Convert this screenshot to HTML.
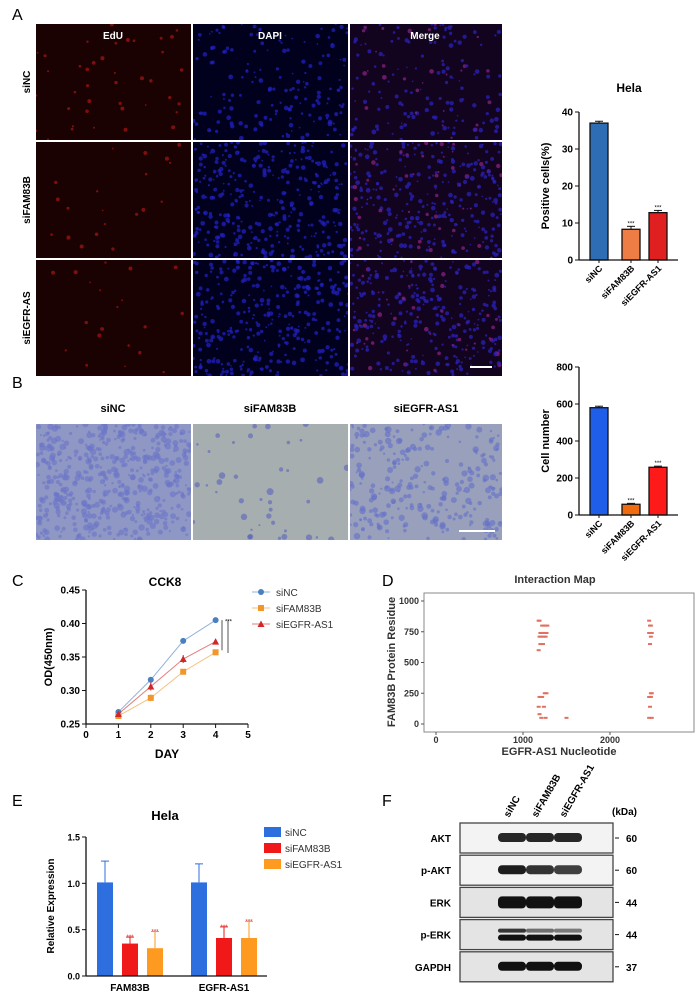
<!DOCTYPE html>
<html><head><meta charset="utf-8"><style>
body{margin:0;background:#fff;}
svg{display:block;font-family:"Liberation Sans",Arial,sans-serif;}
text{font-family:"Liberation Sans",Arial,sans-serif;}
</style></head><body>
<svg id="fig" width="700" height="999" viewBox="0 0 700 999">
<defs id="defs"></defs>
<g id="micro"></g>
<g id="trans"></g>
<text x="12" y="20" font-size="16">A</text>
<text x="12" y="388" font-size="16">B</text>
<text x="12" y="586" font-size="16">C</text>
<text x="382" y="586" font-size="16">D</text>
<text x="12" y="806" font-size="16">E</text>
<text x="382" y="806" font-size="16">F</text>
<g font-weight="bold" font-size="10" fill="#fff" text-anchor="middle">
<text x="113" y="39">EdU</text>
<text x="270" y="39">DAPI</text>
<text x="425" y="39">Merge</text>
</g>
<g font-weight="bold" font-size="10" text-anchor="middle">
<text transform="translate(30,82) rotate(-90)">siNC</text>
<text transform="translate(30,200) rotate(-90)">siFAM83B</text>
<text transform="translate(30,318) rotate(-90)">siEGFR-AS</text>
<text x="113" y="412" font-size="11">siNC</text>
<text x="270" y="412" font-size="11">siFAM83B</text>
<text x="426" y="412" font-size="11">siEGFR-AS1</text>
</g>
<g id="c1"></g>
<g id="c2"></g>
<g id="c3"></g>
<g id="c4"></g>
<g id="c5"></g>
<g id="c6"></g>
</svg>
<script>
const NS="http://www.w3.org/2000/svg";
function el(p,t,a,txt){const e=document.createElementNS(NS,t);for(const k in a)e.setAttribute(k,a[k]);if(txt!==undefined)e.textContent=txt;p.appendChild(e);return e;}
// chart data
const edCats=["siNC","siFAM83B","siEGFR-AS1"];
const edVals=[37,8.3,12.8];
const edErr=[0.5,0.8,0.6];
const edTicks=[0,10,20,30,40];
const twVals=[580,58,258];
const twErr=[8,5,6];
const twTicks=[0,200,400,600,800];
const days=[1,2,3,4];
const ccNC=[0.268,0.316,0.374,0.405];
const ccFAM=[0.262,0.289,0.328,0.357];
const ccEG=[0.265,0.306,0.347,0.373];
const ccErrNC=[0.002,0.003,0.002,0.002];
const ccErrFAM=[0.002,0.005,0.003,0.003];
const ccErrEG=[0.002,0.006,0.006,0.004];
const ccYTicks=[0.25,0.30,0.35,0.40,0.45];
const ccXTicks=[0,1,2,3,4,5];
const imX=[1180,1190,1220,1240,1260,1280,1200,1230,1250,1270,1190,1210,1240,1260,1230,1180,1200,1250,1270,1190,1220,1180,1240,1190,1210,1260,1500,2450,2470,2460,2480,2450,2470,2460,2480,2470,2450,2470,2460,2480,2450];
const imY=[840,840,800,800,800,800,740,740,740,740,710,710,710,710,650,600,650,250,250,220,220,140,140,80,50,50,50,840,800,800,740,740,710,650,250,250,220,220,140,50,50];
const imXTicks=[0,1000,2000];
const imYTicks=[0,250,500,750,1000];
const exGroups=["FAM83B","EGFR-AS1"];
const exSeries=["siNC","siFAM83B","siEGFR-AS1"];
const exVals=[[1.01,0.35,0.30],[1.01,0.41,0.41]];
const exErr=[[0.23,0.07,0.18],[0.20,0.12,0.18]];
const exTicks=[0,0.5,1.0,1.5];
const wbRows=["AKT","p-AKT","ERK","p-ERK","GAPDH"];
const wbKda=["60","60","44","44","37"];
const wbInt=[[0.9,0.9,0.9],[0.95,0.85,0.8],[1,1,1],[0.9,0.6,0.55],[1,1,1]];

let seed=7;function rnd(){seed=(seed*16807)%2147483647;return seed/2147483647;}
const defs=document.getElementById('defs');
let clipN=0;
function clip(x,y,w,h){const id='cl'+(clipN++);const c=el(defs,'clipPath',{id:id});el(c,'rect',{x:x,y:y,width:w,height:h});return 'url(#'+id+')';}
const micro=document.getElementById('micro');
const colX=[36,193,350],colW=[155,155,152],rowY=[24,142,260];
for(let r=0;r<3;r++)for(let c=0;c<3;c++){
 const x0=colX[c],y0=rowY[r],w=colW[c],h=116;
 const bg=c==0?"#1a0202":(c==1?"#01011e":"#12031e");
 const rc=el(micro,'rect',{x:x0,y:y0,width:w,height:h,fill:bg});
 
 
 const g=el(micro,'g',{'clip-path':clip(x0,y0,w,h)});
 const n=c==0?(r==0?40:20):(r==0?160:320);
 for(let i=0;i<n;i++){
  let col=c==0?"#a01414":(c==1?"#2020c0":(rnd()<0.15?"#8a2080":"#2a22b8"));
  el(g,'circle',{cx:x0+rnd()*w,cy:y0+rnd()*h,r:0.8+rnd()*(c==0?1.3:1.6),fill:col,opacity:0.75});
 }
}
el(micro,'rect',{x:470,y:366,width:22,height:2,fill:"#fff"});
const trans=document.getElementById('trans');
const tc=[["#8f97c4",500,"#6a74c8",2.2],["#a6aeb0",40,"#5a62bc",2.5],["#98a0bc",260,"#6470c8",2.3]];
for(let c=0;c<3;c++){
 const x0=colX[c],y0=424,w=colW[c],h=116;
 const rc=el(trans,'rect',{x:x0,y:y0,width:w,height:h,fill:tc[c][0]});
 
 
 const g=el(trans,'g',{'clip-path':clip(x0,y0,w,h)});
 for(let i=0;i<tc[c][1];i++)el(g,'circle',{cx:x0+rnd()*w,cy:y0+rnd()*h,r:1+rnd()*tc[c][3],fill:tc[c][2],opacity:0.6});
}
el(trans,'rect',{x:459,y:530,width:36,height:2,fill:"#fff"});

function barChart(g,vals,err,ticks,ymax,y0,y1,yLabel,title,colors,stars){
 const ax=579,xr=678,sy=v=>y0-(v/ymax)*(y0-y1),cx=[599,631,658];
 if(title){const t=el(g,'text',{x:629,y:92,'font-size':12,'font-weight':'bold','text-anchor':'middle'},title);}
 vals.forEach((v,i)=>{
  const b=el(g,'rect',{x:cx[i]-9,y:sy(v),width:18,height:y0-sy(v),fill:colors[i],stroke:'#111','stroke-width':1.3});
  
  
  el(g,'line',{x1:cx[i],x2:cx[i],y1:sy(v),y2:sy(v+err[i]),stroke:'#111'});
  el(g,'line',{x1:cx[i]-4,x2:cx[i]+4,y1:sy(v+err[i]),y2:sy(v+err[i]),stroke:'#111'});
  if(stars&&i>0)el(g,'text',{x:cx[i],y:sy(v+err[i])-1,'font-size':6,'text-anchor':'middle'},'***');
  const lb=el(g,'text',{transform:`translate(${cx[i]+4},${y0+9}) rotate(-45)`,'font-size':9,'font-weight':'bold','text-anchor':'end'},edCats[i]);
  
 });
 el(g,'line',{x1:ax,x2:ax,y1:y0,y2:y1,stroke:'#111','stroke-width':1.3});
 el(g,'line',{x1:ax,x2:xr,y1:y0,y2:y0,stroke:'#111','stroke-width':1.3});
 ticks.forEach(t=>{el(g,'line',{x1:ax-4,x2:ax,y1:sy(t),y2:sy(t),stroke:'#111'});el(g,'text',{x:ax-6,y:sy(t)+3.5,'font-size':10,'font-weight':'bold','text-anchor':'end'},t);});
 [0,1,2].forEach(i=>el(g,'line',{x1:cx[i],x2:cx[i],y1:y0,y2:y0+3,stroke:'#111'}));
 const yl=el(g,'text',{transform:`translate(549,${(y0+y1)/2}) rotate(-90)`,'font-size':11,'font-weight':'bold','text-anchor':'middle'},yLabel);
 
}
barChart(document.getElementById('c1'),edVals,edErr,edTicks,40,260,112,"Positive cells(%)","Hela",["#2e6db4","#ee7d45","#e02020"],true);
barChart(document.getElementById('c2'),twVals,twErr,twTicks,800,515,367,"Cell number",null,["#1f5ee8","#f06a10","#ff1a1a"],true);

(function(){
 const g=document.getElementById('c3');
 const X=v=>86+v*(248-86)/5,Y=v=>724-(v-0.25)/(0.2)*(724-590);
 el(g,'text',{x:165,y:586,'font-size':12,'font-weight':'bold','text-anchor':'middle'},'CCK8');
 el(g,'line',{x1:X(0),x2:X(5),y1:724,y2:724,stroke:'#111','stroke-width':1.3});
 el(g,'line',{x1:X(0),x2:X(0),y1:724,y2:590,stroke:'#111','stroke-width':1.3});
 ccYTicks.forEach(t=>{el(g,'line',{x1:X(0)-4,x2:X(0),y1:Y(t),y2:Y(t),stroke:'#111'});el(g,'text',{x:X(0)-6,y:Y(t)+3.5,'font-size':10,'font-weight':'bold','text-anchor':'end'},t.toFixed(2));});
 ccXTicks.forEach(t=>{el(g,'line',{x1:X(t),x2:X(t),y1:724,y2:728,stroke:'#111'});el(g,'text',{x:X(t),y:738,'font-size':10,'font-weight':'bold','text-anchor':'middle'},t);});
 el(g,'text',{x:X(2.5),y:758,'font-size':12,'font-weight':'bold','text-anchor':'middle'},'DAY');
 el(g,'text',{transform:`translate(52,657) rotate(-90)`,'font-size':11,'font-weight':'bold','text-anchor':'middle'},'OD(450nm)');
 const ser=[[ccNC,ccErrNC,'#4a7fc0','circle','siNC'],[ccFAM,ccErrFAM,'#f0962a','square','siFAM83B'],[ccEG,ccErrEG,'#d02828','tri','siEGFR-AS1']];
 ser.forEach((s,k)=>{
  const pl=el(g,'polyline',{points:days.map((d,i)=>X(d)+','+Y(s[0][i])).join(' '),fill:'none',stroke:s[2],'stroke-width':1,opacity:0.6});
  
  days.forEach((d,i)=>{
   el(g,'line',{x1:X(d),x2:X(d),y1:Y(s[0][i]-s[1][i]),y2:Y(s[0][i]+s[1][i]),stroke:s[2]});
   mark(g,s[3],X(d),Y(s[0][i]),s[2]);
  });
  const ly=592+k*16;
  el(g,'line',{x1:252,x2:270,y1:ly,y2:ly,stroke:s[2],opacity:0.6});
  mark(g,s[3],261,ly,s[2]);
  const lt=el(g,'text',{x:276,y:ly+4,'font-size':10,fill:'#333'},s[4]);
  
 });
 el(g,'line',{x1:222,x2:222,y1:Y(0.405),y2:Y(0.36),stroke:'#555'});
 el(g,'line',{x1:228,x2:228,y1:Y(0.405),y2:Y(0.356),stroke:'#555'});
 el(g,'text',{x:225,y:Y(0.40),'font-size':6},'***');
})();
function mark(g,t,x,y,c){
 if(t=='circle')el(g,'circle',{cx:x,cy:y,r:3,fill:c});
 else if(t=='square')el(g,'rect',{x:x-3,y:y-3,width:6,height:6,fill:c});
 else el(g,'polygon',{points:`${x},${y-3.5} ${x-3.5},${y+3} ${x+3.5},${y+3}`,fill:c});
}
(function(){
 const g=document.getElementById('c4');
 const X=v=>436+v*(610-436)/2000,Y=v=>724-v*(724-601)/1000;
 el(g,'text',{x:555,y:583,'font-size':11,'font-weight':'bold','text-anchor':'middle',fill:'#333'},'Interaction Map');
 el(g,'rect',{x:424,y:593,width:270,height:139,fill:'#fff',stroke:'#888','stroke-width':1});
 imXTicks.forEach(t=>{el(g,'line',{x1:X(t),x2:X(t),y1:732,y2:735,stroke:'#555'});el(g,'text',{x:X(t),y:743,'font-size':9,'font-weight':'bold','text-anchor':'middle',fill:'#333'},t);});
 imYTicks.forEach(t=>{el(g,'line',{x1:421,x2:424,y1:Y(t),y2:Y(t),stroke:'#555'});el(g,'text',{x:419,y:Y(t)+3,'font-size':9,'font-weight':'bold','text-anchor':'end',fill:'#333'},t);});
 el(g,'text',{x:559,y:755,'font-size':11,'font-weight':'bold','text-anchor':'middle',fill:'#333'},'EGFR-AS1 Nucleotide');
 el(g,'text',{transform:'translate(395,662) rotate(-90)','font-size':11,'font-weight':'bold','text-anchor':'middle',fill:'#333'},'FAM83B Protein Residue');
 imX.forEach((v,i)=>{const p=el(g,'rect',{x:X(v)-2,y:Y(imY[i])-1,width:4,height:2,fill:'#e07060'});});
})();
(function(){
 const g=document.getElementById('c5');
 const Y=v=>976-v/1.5*(976-837),cols=['#2e6fe0','#f01818','#ff9a20'],gc=[130,224],off=[-25,0,25];
 el(g,'text',{x:165,y:820,'font-size':13,'font-weight':'bold','text-anchor':'middle'},'Hela');
 exVals.forEach((gr,gi)=>gr.forEach((v,si)=>{
  const cx=gc[gi]+off[si];
  const b=el(g,'rect',{x:cx-8,y:Y(v),width:16,height:976-Y(v),fill:cols[si]});
  
  const e=v+exErr[gi][si];
  el(g,'line',{x1:cx,x2:cx,y1:Y(v),y2:Y(e),stroke:cols[si]});
  el(g,'line',{x1:cx-4,x2:cx+4,y1:Y(e),y2:Y(e),stroke:cols[si]});
  if(si>0)el(g,'text',{x:cx,y:Y(e)+2,'font-size':6,'text-anchor':'middle',fill:'#c33'},'***');
 }));
 el(g,'line',{x1:86,x2:86,y1:976,y2:837,stroke:'#111','stroke-width':1.3});
 el(g,'line',{x1:86,x2:267,y1:976,y2:976,stroke:'#111','stroke-width':1.3});
 exTicks.forEach(t=>{el(g,'line',{x1:82,x2:86,y1:Y(t),y2:Y(t),stroke:'#111'});el(g,'text',{x:80,y:Y(t)+3.5,'font-size':9,'font-weight':'bold','text-anchor':'end'},t.toFixed(1));});
 exGroups.forEach((n,i)=>el(g,'text',{x:gc[i],y:991,'font-size':10,'font-weight':'bold','text-anchor':'middle'},n));
 el(g,'text',{transform:'translate(54,906) rotate(-90)','font-size':10,'font-weight':'bold','text-anchor':'middle'},'Relative Expression');
 exSeries.forEach((n,i)=>{
  el(g,'rect',{x:264,y:827+i*16,width:17,height:10,fill:cols[i]});
  const t=el(g,'text',{x:285,y:836+i*16,'font-size':10,fill:'#333'},n);
  
 });
})();
(function(){
 const g=document.getElementById('c6');
 const lanes=[512,540,568];
 ['siNC','siFAM83B','siEGFR-AS1'].forEach((n,i)=>el(g,'text',{transform:`translate(${lanes[i]-3},${818}) rotate(-60)`,'font-size':10,'font-weight':'bold'},n));
 el(g,'text',{x:612,y:815,'font-size':10,'font-weight':'bold'},'(kDa)');
 wbRows.forEach((n,r)=>{
  const y0=823+r*32.2;
  const rc=el(g,'rect',{x:460,y:y0,width:153,height:30,fill:r==0||r==1?'#f3f3f3':'#e4e4e4',stroke:'#444','stroke-width':1.3});
  
  wbInt[r].forEach((v,i)=>{
   if(r==3){el(g,'rect',{x:lanes[i]-14,y:y0+9,width:28,height:4,rx:2,fill:'#222',opacity:v});el(g,'rect',{x:lanes[i]-14,y:y0+15,width:28,height:6,rx:3,fill:'#111'});}
   else el(g,'rect',{x:lanes[i]-14,y:y0+(r==2?9:10),width:28,height:r==2?12:9,rx:4,fill:'#111',opacity:v});
  });
  el(g,'text',{x:451,y:y0+19,'font-size':10,'font-weight':'bold','text-anchor':'end'},n);
  el(g,'line',{x1:615,x2:619,y1:y0+15,y2:y0+15,stroke:'#111'});
  el(g,'text',{x:626,y:y0+19,'font-size':10,'font-weight':'bold'},wbKda[r]);
 });
})();
</script>
</body></html>
